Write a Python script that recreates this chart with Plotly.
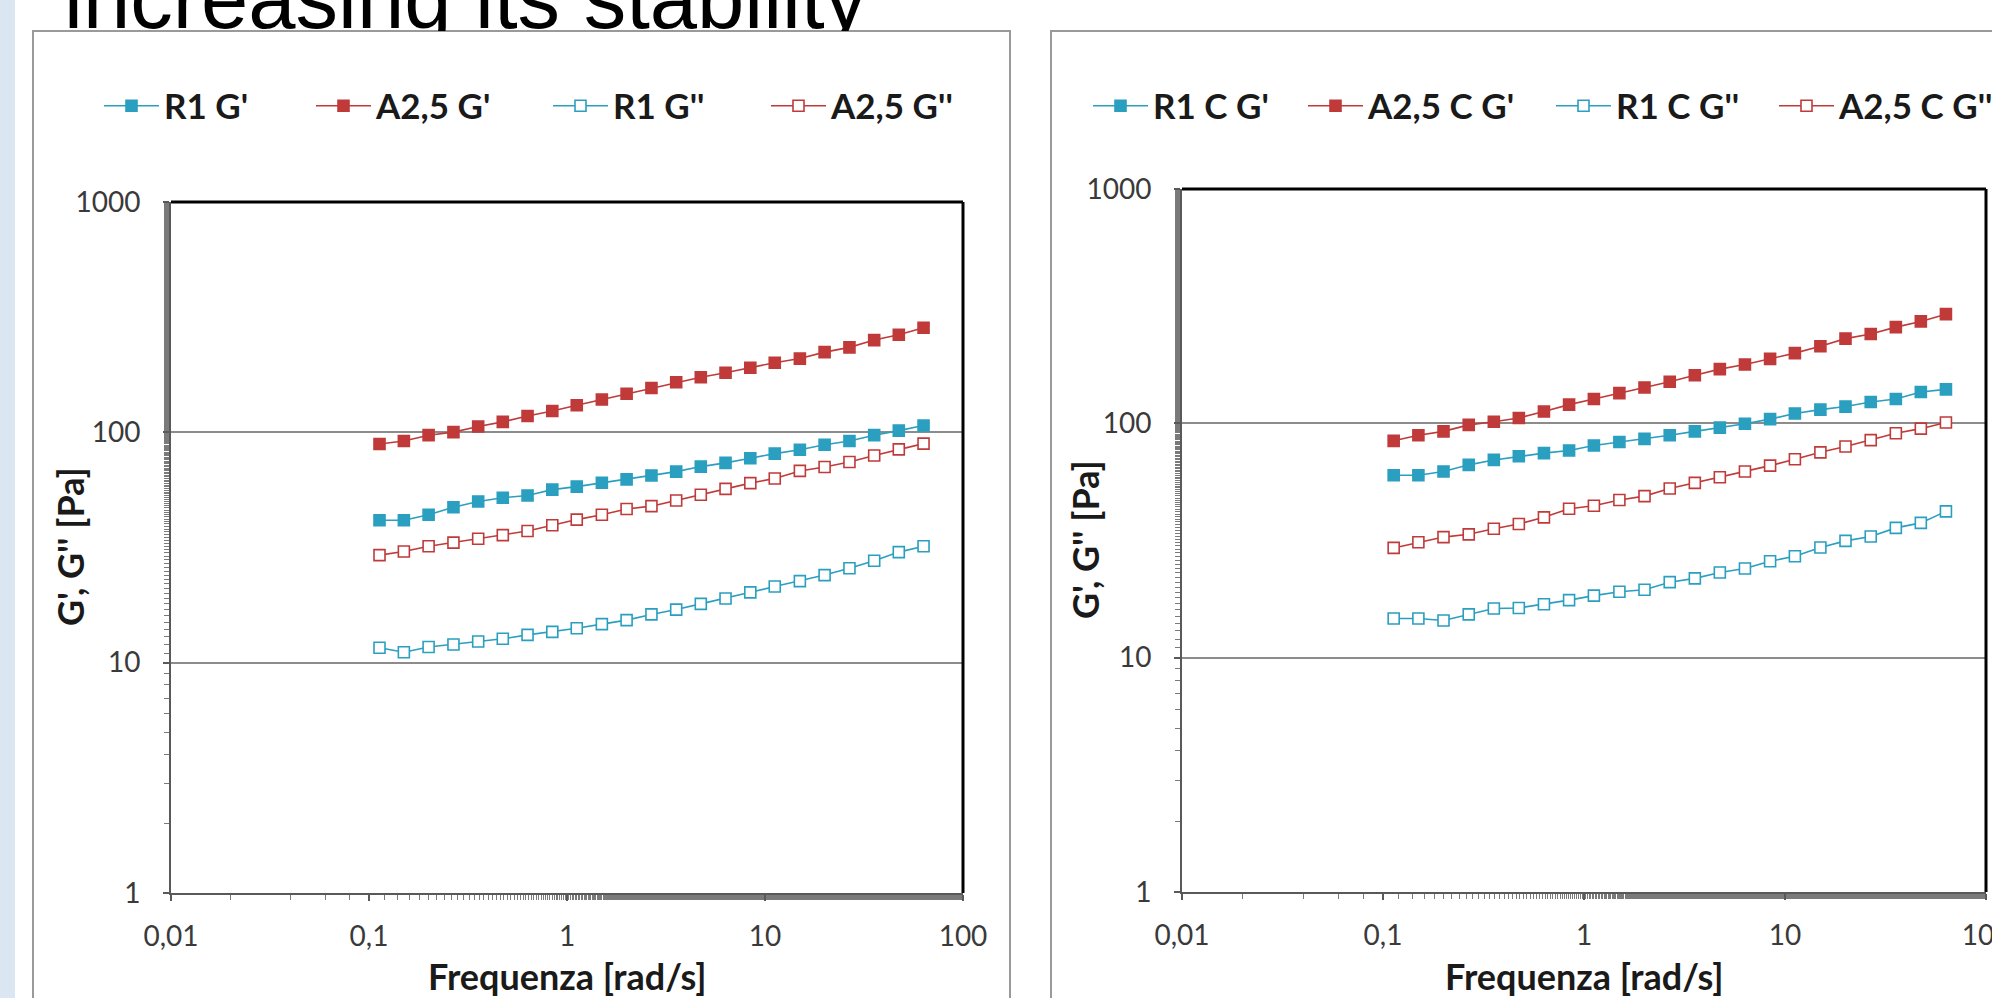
import plotly.graph_objects as go

W, H = 1992, 998

# ---------------- data ----------------
freq = [0.113, 0.150, 0.200, 0.267, 0.356, 0.474, 0.632, 0.843, 1.12, 1.50, 2.00, 2.67,
        3.56, 4.74, 6.32, 8.43, 11.2, 15.0, 20.0, 26.7, 35.6, 47.4, 63.2]

# left chart
r1_g1 = [41.5, 41.5, 43.9, 47.3, 50.1, 52.0, 53.2, 56.4, 58.1, 60.4, 62.5, 65.0,
         67.5, 71.0, 73.7, 77.2, 80.8, 84.0, 88.3, 91.7, 97.2, 101.7, 107.0]
a25_g1 = [89.0, 91.7, 97.2, 100.2, 106.0, 111.0, 117.7, 123.7, 131.0, 138.8, 147.0, 155.7,
          165.0, 173.4, 181.5, 190.8, 200.6, 209.0, 223.0, 233.8, 251.5, 265.4, 284.4]
r1_g2 = [11.6, 11.1, 11.7, 12.0, 12.35, 12.7, 13.2, 13.6, 14.1, 14.7, 15.3, 16.2,
         17.0, 18.0, 19.0, 20.2, 21.4, 22.6, 24.0, 25.7, 27.7, 30.2, 32.0]
a25_g2 = [29.3, 30.4, 32.0, 33.2, 34.5, 35.8, 37.3, 39.5, 41.8, 43.9, 46.5, 47.8,
          50.6, 53.6, 56.8, 60.2, 63.0, 68.0, 70.7, 74.3, 79.3, 84.3, 89.3]

# right chart
r1c_g1 = [60.0, 60.0, 62.3, 66.5, 69.8, 72.4, 74.6, 76.6, 80.4, 83.2, 85.8, 89.0,
          92.4, 95.9, 99.6, 104.2, 110.2, 114.4, 117.9, 123.4, 127.1, 136.0, 139.6]
a25c_g1 = [84.2, 89.0, 92.4, 98.5, 101.5, 105.4, 112.3, 120.2, 127.1, 134.5, 142.3, 150.5,
           160.4, 170.3, 178.2, 188.4, 199.4, 213.3, 229.9, 240.5, 257.3, 272.2, 292.3]
r1c_g2 = [14.7, 14.7, 14.4, 15.3, 16.2, 16.3, 16.9, 17.6, 18.4, 19.1, 19.5, 21.0,
          21.8, 23.1, 24.0, 25.8, 27.1, 29.5, 31.5, 32.9, 35.8, 37.6, 42.1]
a25c_g2 = [29.4, 31.1, 32.7, 33.6, 35.5, 37.2, 39.7, 43.2, 44.5, 47.1, 48.9, 52.7,
           55.7, 58.9, 62.3, 66.0, 70.3, 75.2, 79.6, 84.8, 90.7, 94.9, 100.8]

x_tickvals = [0.01, 0.1, 1, 10, 100]
x_ticktext = ["0,01", "0,1", "1", "10", "100"]
y_tickvals = [1, 10, 100, 1000]
y_ticktext = ["1", "10", "100", "1000"]

names_left = ["R1 G'", "A2,5 G'", "R1 G''", "A2,5 G''"]
names_right = ["R1 C G'", "A2,5 C G'", "R1 C G''", "A2,5 C G''"]
y_title = "G', G'' [Pa]"
x_title = "Frequenza [rad/s]"
title_text = "increasing its stability"

BLUE = "#2a9fbf"
RED = "#c03a3a"

# ---------------- helpers ----------------
def px(x):
    return x / W

def py(y):
    return 1 - y / H

FONT = "Lato, Carlito, Calibri, sans-serif"

fig = go.Figure()

series = [
    (r1_g1, names_left[0], BLUE, True, "x", "y"),
    (a25_g1, names_left[1], RED, True, "x", "y"),
    (r1_g2, names_left[2], BLUE, False, "x", "y"),
    (a25_g2, names_left[3], RED, False, "x", "y"),
    (r1c_g1, names_right[0], BLUE, True, "x2", "y2"),
    (a25c_g1, names_right[1], RED, True, "x2", "y2"),
    (r1c_g2, names_right[2], BLUE, False, "x2", "y2"),
    (a25c_g2, names_right[3], RED, False, "x2", "y2"),
]

legend_x = [99, 311, 548, 766, 1088, 1303, 1551, 1774]
legend_y = 106

for i, (vals, name, col, filled, xa, ya) in enumerate(series):
    lg = "legend" if i == 0 else f"legend{i+1}"
    fig.add_trace(go.Scatter(
        x=freq, y=vals, name=name, mode="lines+markers",
        xaxis=xa, yaxis=ya, legend=lg,
        line=dict(color=col, width=1.6),
        marker=dict(symbol="square", size=11,
                    color=col if filled else "white",
                    line=dict(color=col, width=1.6)),
        cliponaxis=False,
    ))

# slide title, partly hidden behind the chart boxes (clipped to the strip above them)
fig.add_trace(go.Scatter(
    x=[64], y=[6.5], mode="text", text=[title_text], textposition="middle right",
    textfont=dict(family="Liberation Sans, Arial, sans-serif", size=85, color="black"),
    xaxis="x3", yaxis="y3", showlegend=False, hoverinfo="skip", cliponaxis=True,
))

axis_common = dict(
    type="log", showline=True, linecolor="#595959", linewidth=2,
    ticks="outside", ticklen=6, tickwidth=1.5, tickcolor="#595959",
    tickfont=dict(family=FONT, size=28, color="#3a3a3a"),
    zeroline=False, fixedrange=True, automargin=False, ticklabeloverflow="allow",
    minor=dict(ticks="outside", ticklen=5, tickwidth=1.3, tickcolor="#7a7a7a", showgrid=False),
)

xcommon = dict(axis_common, range=[-2, 2], tickvals=x_tickvals, ticktext=x_ticktext,
               showgrid=False, ticklabelstandoff=11)
ycommon = dict(axis_common, range=[0, 3], tickvals=y_tickvals, ticktext=y_ticktext,
               showgrid=True, gridcolor="#8c8c8c", gridwidth=2, ticklabelstandoff=17)

legend_common = dict(
    orientation="h", yanchor="middle", xanchor="left",
    font=dict(family=FONT, size=35, color="#1a1a1a", weight="bold"),
    bgcolor="rgba(0,0,0,0)", itemwidth=55, tracegroupgap=0,
)

layout = dict(
    width=W, height=H, margin=dict(l=0, r=0, t=0, b=0, autoexpand=False),
    paper_bgcolor="white", plot_bgcolor="rgba(0,0,0,0)",
    xaxis=dict(xcommon, domain=[px(171), px(963)], anchor="y"),
    yaxis=dict(ycommon, domain=[py(893), py(202)], anchor="x"),
    xaxis2=dict(xcommon, domain=[px(1182), px(1986)], anchor="y2"),
    yaxis2=dict(ycommon, domain=[py(892), py(189)], anchor="x2"),
    xaxis3=dict(domain=[0, 1], range=[0, W], visible=False, fixedrange=True, anchor="y3",
                automargin=False),
    yaxis3=dict(domain=[py(31), 1], range=[31, 0], visible=False, fixedrange=True, anchor="x3",
                automargin=False),
    showlegend=True,
)
for i, lx in enumerate(legend_x):
    key = "legend" if i == 0 else f"legend{i+1}"
    layout[key] = dict(legend_common, x=px(lx), y=py(legend_y))

fig.update_layout(**layout)

shapes = [
    # light blue slide strip
    dict(type="rect", xref="paper", yref="paper", x0=-0.01, x1=px(15), y0=-0.1, y1=1.1,
         fillcolor="#dbe6f3", line=dict(width=0), layer="below"),
    # chart boxes
    dict(type="rect", xref="paper", yref="paper", x0=px(33), x1=px(1010), y0=py(1020), y1=py(31),
         fillcolor="white", line=dict(color="#9a9a9a", width=2), layer="below"),
    dict(type="rect", xref="paper", yref="paper", x0=px(1051), x1=px(2010), y0=py(1020), y1=py(31),
         fillcolor="white", line=dict(color="#9a9a9a", width=2), layer="below"),
]
# black top/right plot borders
for xa, ya in (("x", "y"), ("x2", "y2")):
    shapes.append(dict(type="line", xref=f"{xa} domain", yref=f"{ya} domain",
                       x0=0, x1=1, y0=1, y1=1, line=dict(color="black", width=3)))
    shapes.append(dict(type="line", xref=f"{xa} domain", yref=f"{ya} domain",
                       x0=1, x1=1, y0=0, y1=1, line=dict(color="black", width=3)))
fig.update_layout(shapes=shapes)

title_font = dict(family=FONT, size=36, color="#1a1a1a", weight="bold")
annotations = [
    dict(text=y_title, x=px(70), y=py(547), xref="paper", yref="paper",
         textangle=-90, showarrow=False, font=title_font, xanchor="center", yanchor="middle"),
    dict(text=y_title, x=px(1085), y=py(540), xref="paper", yref="paper",
         textangle=-90, showarrow=False, font=title_font, xanchor="center", yanchor="middle"),
    dict(text=x_title, x=px(567), y=py(976), xref="paper", yref="paper",
         showarrow=False, font=title_font, xanchor="center", yanchor="middle"),
    dict(text=x_title, x=px(1584), y=py(976), xref="paper", yref="paper",
         showarrow=False, font=title_font, xanchor="center", yanchor="middle"),
]
fig.update_layout(annotations=annotations)

fig.write_html("out.html",
               config={"displayModeBar": False},
               post_script="document.body.style.margin='0';document.body.style.overflow='hidden';")
